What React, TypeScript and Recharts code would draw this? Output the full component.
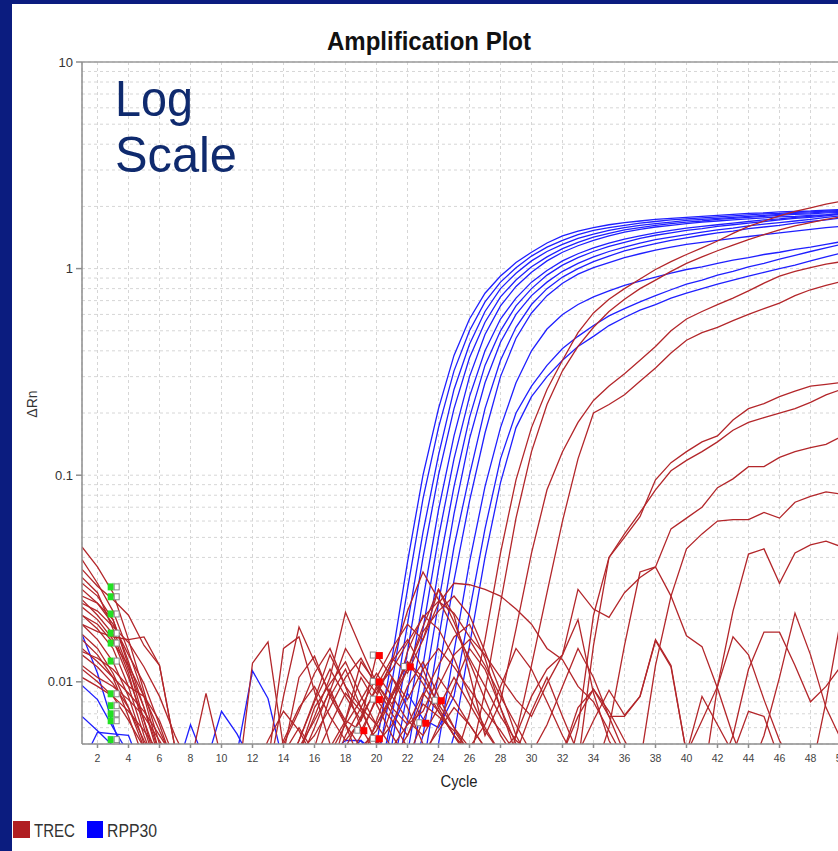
import React from "react";
import {
  CartesianGrid,
  ComposedChart,
  Line,
  ReferenceLine,
  Scatter,
  XAxis,
  YAxis,
} from "recharts";

// cycle numbers on the x axis
const cycles = [
  1, 2, 3, 4, 5, 6, 7, 8, 9, 10,
  11, 12, 13, 14, 15, 16, 17, 18, 19, 20,
  21, 22, 23, 24, 25, 26, 27, 28, 29, 30,
  31, 32, 33, 34, 35, 36, 37, 38, 39, 40,
  41, 42, 43, 44, 45, 46, 47, 48, 49, 50,
];

// RPP30 wells (blue), delta Rn per cycle
const rpp30Curves: number[][] = [
  [
    0.017, 0.011, 0.0062, 0.0038, 0.003, 0.003, 0.003, 0.003, 0.003, 0.003,
    0.003, 0.003, 0.003, 0.003, 0.003, 0.003, 0.003, 0.003, 0.0028, 0.005,
    0.013, 0.038, 0.1, 0.21, 0.38, 0.57, 0.76, 0.92, 1.07, 1.2,
    1.33, 1.44, 1.52, 1.58, 1.63, 1.67, 1.7, 1.73, 1.75, 1.77,
    1.79, 1.81, 1.83, 1.85, 1.86, 1.88, 1.89, 1.9, 1.92, 1.93,
  ],
  [
    0.0096, 0.0082, 0.006, 0.0045, 0.0035, 0.003, 0.003, 0.003, 0.003, 0.003,
    0.003, 0.003, 0.003, 0.003, 0.003, 0.003, 0.003, 0.0045, 0.0052, 0.0038,
    0.01, 0.028, 0.077, 0.17, 0.32, 0.5, 0.69, 0.86, 1.01, 1.15,
    1.27, 1.37, 1.46, 1.53, 1.58, 1.62, 1.66, 1.69, 1.72, 1.74,
    1.76, 1.78, 1.8, 1.82, 1.84, 1.85, 1.87, 1.88, 1.9, 1.91,
  ],
  [
    0.0068, 0.0058, 0.0049, 0.004, 0.003, 0.003, 0.003, 0.003, 0.003, 0.003,
    0.003, 0.003, 0.003, 0.003, 0.003, 0.003, 0.003, 0.003, 0.003, 0.003,
    0.0068, 0.019, 0.053, 0.125, 0.26, 0.43, 0.62, 0.8, 0.95, 1.09,
    1.21, 1.31, 1.4, 1.47, 1.53, 1.58, 1.62, 1.65, 1.68, 1.71,
    1.73, 1.75, 1.77, 1.79, 1.81, 1.83, 1.85, 1.86, 1.88, 1.89,
  ],
  [
    0.004, 0.0057, 0.0056, 0.0055, 0.0035, 0.003, 0.003, 0.003, 0.003, 0.003,
    0.003, 0.003, 0.003, 0.003, 0.003, 0.003, 0.003, 0.003, 0.003, 0.003,
    0.005, 0.014, 0.04, 0.1, 0.21, 0.37, 0.55, 0.73, 0.88, 1.02,
    1.14, 1.25, 1.34, 1.42, 1.48, 1.54, 1.58, 1.62, 1.65, 1.68,
    1.7, 1.73, 1.75, 1.77, 1.79, 1.81, 1.83, 1.84, 1.86, 1.87,
  ],
  [
    0.003, 0.003, 0.003, 0.003, 0.003, 0.003, 0.003, 0.003, 0.003, 0.003,
    0.003, 0.003, 0.003, 0.003, 0.003, 0.003, 0.003, 0.003, 0.0045, 0.0035,
    0.0035, 0.009, 0.025, 0.068, 0.155, 0.3, 0.48, 0.66, 0.82, 0.96,
    1.09, 1.2, 1.29, 1.37, 1.44, 1.5, 1.55, 1.59, 1.62, 1.65,
    1.68, 1.7, 1.72, 1.74, 1.76, 1.78, 1.79, 1.81, 1.82, 1.84,
  ],
  [
    0.003, 0.003, 0.003, 0.003, 0.003, 0.003, 0.0035, 0.0062, 0.004, 0.003,
    0.003, 0.003, 0.003, 0.003, 0.003, 0.003, 0.003, 0.003, 0.003, 0.003,
    0.003, 0.0065, 0.018, 0.05, 0.12, 0.24, 0.4, 0.57, 0.72, 0.86,
    0.98, 1.09, 1.18, 1.26, 1.33, 1.39, 1.44, 1.49, 1.53, 1.57,
    1.6, 1.63, 1.66, 1.69, 1.72, 1.74, 1.77, 1.79, 1.82, 1.85,
  ],
  [
    0.003, 0.003, 0.003, 0.003, 0.003, 0.003, 0.003, 0.003, 0.004, 0.0072,
    0.0056, 0.004, 0.003, 0.003, 0.003, 0.003, 0.003, 0.003, 0.003, 0.003,
    0.003, 0.0045, 0.012, 0.035, 0.088, 0.19, 0.34, 0.5, 0.66, 0.8,
    0.93, 1.04, 1.13, 1.21, 1.28, 1.34, 1.4, 1.45, 1.49, 1.53,
    1.56, 1.6, 1.63, 1.66, 1.69, 1.72, 1.75, 1.77, 1.8, 1.83,
  ],
  [
    0.003, 0.003, 0.003, 0.003, 0.003, 0.003, 0.003, 0.003, 0.003, 0.003,
    0.0045, 0.0113, 0.0083, 0.004, 0.003, 0.003, 0.003, 0.003, 0.003, 0.003,
    0.003, 0.0032, 0.0085, 0.024, 0.065, 0.15, 0.28, 0.44, 0.6, 0.74,
    0.86, 0.97, 1.06, 1.14, 1.21, 1.27, 1.33, 1.38, 1.42, 1.46,
    1.5, 1.54, 1.57, 1.61, 1.64, 1.67, 1.7, 1.73, 1.77, 1.8,
  ],
  [
    0.003, 0.003, 0.003, 0.003, 0.003, 0.003, 0.003, 0.003, 0.003, 0.003,
    0.003, 0.003, 0.003, 0.003, 0.003, 0.003, 0.0045, 0.0052, 0.0052, 0.0045,
    0.0035, 0.003, 0.0055, 0.016, 0.045, 0.1, 0.21, 0.36, 0.52, 0.67,
    0.8, 0.91, 1.0, 1.08, 1.15, 1.22, 1.27, 1.32, 1.37, 1.41,
    1.45, 1.49, 1.52, 1.56, 1.59, 1.62, 1.66, 1.69, 1.72, 1.76,
  ],
  [
    0.003, 0.003, 0.003, 0.003, 0.003, 0.003, 0.003, 0.003, 0.003, 0.003,
    0.003, 0.003, 0.003, 0.003, 0.003, 0.003, 0.003, 0.003, 0.003, 0.003,
    0.003, 0.003, 0.0038, 0.011, 0.031, 0.075, 0.16, 0.3, 0.46, 0.61,
    0.74, 0.85, 0.94, 1.01, 1.07, 1.13, 1.18, 1.23, 1.27, 1.31,
    1.34, 1.37, 1.4, 1.43, 1.46, 1.49, 1.52, 1.55, 1.58, 1.6,
  ],
  [
    0.003, 0.003, 0.003, 0.003, 0.003, 0.003, 0.003, 0.003, 0.003, 0.003,
    0.003, 0.003, 0.003, 0.003, 0.003, 0.003, 0.003, 0.003, 0.003, 0.003,
    0.003, 0.003, 0.003, 0.005, 0.014, 0.038, 0.088, 0.17, 0.28, 0.4,
    0.51, 0.6, 0.67, 0.73, 0.78, 0.83, 0.87, 0.91, 0.95, 0.99,
    1.02, 1.06, 1.1, 1.13, 1.17, 1.2, 1.24, 1.27, 1.31, 1.35,
  ],
  [
    0.003, 0.003, 0.003, 0.003, 0.003, 0.003, 0.003, 0.003, 0.003, 0.003,
    0.003, 0.003, 0.003, 0.003, 0.003, 0.003, 0.003, 0.003, 0.003, 0.003,
    0.006, 0.0088, 0.0066, 0.006, 0.0085, 0.022, 0.055, 0.12, 0.2, 0.27,
    0.34, 0.41, 0.47, 0.53, 0.59, 0.64, 0.69, 0.74, 0.79, 0.84,
    0.88, 0.93, 0.97, 1.02, 1.06, 1.11, 1.16, 1.21, 1.26, 1.31,
  ],
  [
    0.003, 0.003, 0.003, 0.003, 0.003, 0.003, 0.003, 0.003, 0.003, 0.003,
    0.003, 0.003, 0.003, 0.003, 0.003, 0.003, 0.003, 0.003, 0.003, 0.003,
    0.003, 0.003, 0.003, 0.003, 0.0055, 0.015, 0.04, 0.092, 0.17, 0.24,
    0.3, 0.36, 0.42, 0.47, 0.53, 0.58, 0.63, 0.67, 0.72, 0.76,
    0.8, 0.84, 0.88, 0.92, 0.96, 1.0, 1.04, 1.09, 1.14, 1.19,
  ],
];

// TREC wells (red), delta Rn per cycle
const trecCurves: number[][] = [
  [
    0.03, 0.026, 0.02, 0.012, 0.0065, 0.0035, 0.003, 0.003, 0.003, 0.003,
    0.003, 0.003, 0.003, 0.003, 0.004, 0.006, 0.0092, 0.0062, 0.004, 0.0035,
    0.004, 0.0045, 0.004, 0.0035, 0.004, 0.007, 0.016, 0.042, 0.095, 0.17,
    0.26, 0.36, 0.49, 0.61, 0.71, 0.8, 0.89, 0.99, 1.08, 1.17,
    1.26, 1.36, 1.48, 1.6, 1.7, 1.8, 1.89, 1.97, 2.05, 2.12,
  ],
  [
    0.045, 0.036, 0.027, 0.016, 0.009, 0.005, 0.0035, 0.003, 0.003, 0.003,
    0.003, 0.003, 0.004, 0.0145, 0.0165, 0.009, 0.005, 0.0035, 0.004, 0.0065,
    0.0105, 0.0075, 0.005, 0.0045, 0.0035, 0.004, 0.009, 0.024, 0.062, 0.13,
    0.22, 0.32, 0.42, 0.52, 0.62, 0.71, 0.8, 0.88, 0.97, 1.06,
    1.14, 1.22, 1.3, 1.38, 1.46, 1.54, 1.61, 1.67, 1.73, 1.78,
  ],
  [
    0.039, 0.03, 0.022, 0.014, 0.0085, 0.0045, 0.003, 0.003, 0.003, 0.003,
    0.003, 0.003, 0.003, 0.0035, 0.0052, 0.008, 0.0115, 0.0085, 0.0065, 0.0095,
    0.013, 0.011, 0.016, 0.028, 0.021, 0.011, 0.0055, 0.008, 0.018, 0.042,
    0.085, 0.13, 0.18, 0.23, 0.27, 0.31, 0.36, 0.42, 0.5, 0.57,
    0.62, 0.67, 0.72, 0.78, 0.85, 0.92, 0.97, 1.01, 1.05, 1.08,
  ],
  [
    0.035, 0.029, 0.025, 0.021, 0.015, 0.012, 0.0048, 0.003, 0.003, 0.003,
    0.003, 0.003, 0.003, 0.003, 0.0035, 0.0048, 0.0085, 0.0115, 0.0075, 0.005,
    0.0062, 0.0095, 0.0125, 0.0085, 0.006, 0.0045, 0.0035, 0.003, 0.0055, 0.012,
    0.027, 0.06, 0.12, 0.2, 0.22, 0.245, 0.285, 0.33, 0.39, 0.45,
    0.49, 0.52, 0.56, 0.6, 0.64, 0.68, 0.74, 0.79, 0.83, 0.865,
  ],
  [
    0.028, 0.024, 0.02, 0.0125, 0.0075, 0.0042, 0.003, 0.003, 0.003, 0.003,
    0.003, 0.003, 0.0035, 0.005, 0.0072, 0.011, 0.0145, 0.0095, 0.006, 0.0045,
    0.0075, 0.014, 0.021, 0.018, 0.013, 0.0085, 0.006, 0.0045, 0.0035, 0.003,
    0.003, 0.003, 0.006, 0.021, 0.04, 0.05, 0.063, 0.095, 0.115, 0.13,
    0.145, 0.155, 0.185, 0.21, 0.222, 0.24, 0.255, 0.27, 0.275, 0.281,
  ],
  [
    0.025, 0.021, 0.017, 0.011, 0.006, 0.0035, 0.003, 0.003, 0.003, 0.003,
    0.003, 0.003, 0.003, 0.0035, 0.0045, 0.0055, 0.0075, 0.0105, 0.013, 0.0095,
    0.007, 0.0055, 0.0085, 0.012, 0.0165, 0.019, 0.013, 0.0075, 0.0045, 0.0035,
    0.003, 0.003, 0.004, 0.015, 0.04, 0.052, 0.066, 0.085, 0.105, 0.118,
    0.13, 0.145, 0.165, 0.18, 0.19, 0.2, 0.21, 0.225, 0.245, 0.26,
  ],
  [
    0.023, 0.02, 0.016, 0.0105, 0.0065, 0.004, 0.003, 0.003, 0.003, 0.003,
    0.003, 0.003, 0.003, 0.003, 0.0045, 0.0075, 0.0098, 0.0125, 0.0085, 0.0062,
    0.0085, 0.0115, 0.0175, 0.022, 0.026, 0.021, 0.014, 0.009, 0.0055, 0.004,
    0.0035, 0.003, 0.003, 0.0035, 0.006, 0.015, 0.034, 0.036, 0.055, 0.062,
    0.07, 0.087, 0.096, 0.11, 0.11, 0.122, 0.13, 0.136, 0.141, 0.154,
  ],
  [
    0.021, 0.018, 0.0145, 0.0095, 0.0055, 0.0035, 0.003, 0.003, 0.003, 0.003,
    0.003, 0.003, 0.0035, 0.0045, 0.006, 0.0045, 0.0035, 0.0065, 0.0105, 0.0078,
    0.0055, 0.0042, 0.0065, 0.0095, 0.0135, 0.016, 0.012, 0.0085, 0.0062, 0.0045,
    0.0035, 0.003, 0.003, 0.003, 0.0035, 0.003, 0.004, 0.012, 0.026, 0.044,
    0.052, 0.06, 0.061, 0.061, 0.066, 0.062, 0.074, 0.079, 0.083, 0.081,
  ],
  [
    0.019, 0.016, 0.0125, 0.0085, 0.005, 0.0035, 0.003, 0.003, 0.003, 0.003,
    0.003, 0.0035, 0.0052, 0.0072, 0.0058, 0.0042, 0.0035, 0.004, 0.0055, 0.0085,
    0.0125, 0.016, 0.0115, 0.0075, 0.0055, 0.0045, 0.0038, 0.0033, 0.003, 0.003,
    0.003, 0.003, 0.003, 0.003, 0.003, 0.003, 0.003, 0.003, 0.0035, 0.0045,
    0.0065, 0.0095, 0.022, 0.0415, 0.044, 0.03, 0.042, 0.046, 0.048, 0.045,
  ],
  [
    0.017, 0.0145, 0.011, 0.0075, 0.0048, 0.0035, 0.003, 0.003, 0.003, 0.003,
    0.003, 0.003, 0.003, 0.003, 0.003, 0.0035, 0.0045, 0.0062, 0.0082, 0.011,
    0.0085, 0.0065, 0.0055, 0.0075, 0.0105, 0.0078, 0.0058, 0.0045, 0.0055, 0.0085,
    0.0115, 0.0135, 0.028, 0.0225, 0.0205, 0.027, 0.032, 0.036, 0.026, 0.0167,
    0.0148, 0.0093, 0.0055, 0.0035, 0.003, 0.003, 0.003, 0.003, 0.003, 0.003,
  ],
  [
    0.016, 0.0135, 0.0105, 0.0068, 0.0042, 0.003, 0.003, 0.003, 0.003, 0.003,
    0.003, 0.0123, 0.0156, 0.0048, 0.003, 0.003, 0.0035, 0.0055, 0.0075, 0.0062,
    0.0048, 0.0062, 0.0088, 0.0072, 0.0055, 0.0042, 0.0035, 0.003, 0.003, 0.003,
    0.003, 0.003, 0.003, 0.003, 0.003, 0.003, 0.003, 0.003, 0.003, 0.003,
    0.003, 0.0035, 0.0055, 0.0115, 0.0174, 0.0174, 0.012, 0.008, 0.0095, 0.012,
  ],
  [
    0.014, 0.013, 0.0115, 0.0095, 0.0085, 0.0065, 0.0042, 0.003, 0.003, 0.003,
    0.003, 0.003, 0.003, 0.0035, 0.0052, 0.0082, 0.0135, 0.0095, 0.0075, 0.0105,
    0.0145, 0.019, 0.016, 0.024, 0.03, 0.0295, 0.028, 0.026, 0.0225, 0.019,
    0.0145, 0.0128, 0.0095, 0.008, 0.0058, 0.0042, 0.0035, 0.003, 0.003, 0.003,
    0.003, 0.003, 0.003, 0.003, 0.003, 0.003, 0.003, 0.003, 0.003, 0.003,
  ],
  [
    0.012, 0.0105, 0.0095, 0.0082, 0.0068, 0.0052, 0.0038, 0.003, 0.003, 0.003,
    0.003, 0.003, 0.003, 0.0035, 0.0048, 0.0065, 0.009, 0.0145, 0.011, 0.0088,
    0.0125, 0.022, 0.034, 0.025, 0.018, 0.013, 0.0095, 0.0068, 0.0052, 0.0045,
    0.0062, 0.0095, 0.0145, 0.0105, 0.0068, 0.0045, 0.0035, 0.003, 0.003, 0.003,
    0.003, 0.003, 0.003, 0.003, 0.003, 0.003, 0.003, 0.003, 0.003, 0.003,
  ],
  [
    0.026, 0.024, 0.019, 0.0135, 0.0098, 0.0062, 0.0038, 0.003, 0.003, 0.003,
    0.003, 0.003, 0.003, 0.0035, 0.0045, 0.0068, 0.0105, 0.0217, 0.0145, 0.0098,
    0.0078, 0.0115, 0.0185, 0.028, 0.0195, 0.0125, 0.0082, 0.0055, 0.0042, 0.0035,
    0.003, 0.003, 0.003, 0.003, 0.003, 0.003, 0.003, 0.003, 0.003, 0.003,
    0.003, 0.003, 0.0045, 0.0072, 0.0068, 0.0042, 0.003, 0.003, 0.003, 0.003,
  ],
  [
    0.032, 0.027, 0.018, 0.0115, 0.0075, 0.0045, 0.0035, 0.004, 0.0088, 0.0042,
    0.003, 0.003, 0.0035, 0.0085, 0.0184, 0.0125, 0.0088, 0.0065, 0.0058, 0.0082,
    0.0065, 0.0048, 0.0042, 0.0062, 0.0095, 0.0145, 0.0115, 0.0075, 0.005, 0.0038,
    0.0032, 0.0045, 0.0068, 0.0092, 0.0072, 0.0052, 0.0038, 0.003, 0.003, 0.003,
    0.003, 0.003, 0.003, 0.003, 0.003, 0.003, 0.003, 0.003, 0.003, 0.003,
  ],
  [
    0.019, 0.0175, 0.0165, 0.016, 0.0165, 0.012, 0.0048, 0.003, 0.003, 0.003,
    0.003, 0.003, 0.003, 0.0045, 0.0105, 0.0133, 0.0085, 0.0062, 0.0048, 0.0058,
    0.0085, 0.0125, 0.0105, 0.0078, 0.006, 0.0048, 0.0062, 0.0095, 0.0145, 0.0115,
    0.008, 0.0055, 0.004, 0.0035, 0.003, 0.003, 0.003, 0.003, 0.003, 0.003,
    0.003, 0.003, 0.003, 0.003, 0.003, 0.003, 0.003, 0.003, 0.003, 0.003,
  ],
  [
    0.0145, 0.0125, 0.0105, 0.0088, 0.0072, 0.0055, 0.0042, 0.0035, 0.003, 0.003,
    0.003, 0.003, 0.003, 0.003, 0.003, 0.0035, 0.0048, 0.0065, 0.0125, 0.0098,
    0.0075, 0.0062, 0.0072, 0.0105, 0.0082, 0.0062, 0.0048, 0.0038, 0.0032, 0.003,
    0.003, 0.0035, 0.0045, 0.0065, 0.0091, 0.0069, 0.0085, 0.016, 0.012, 0.0045,
    0.003, 0.003, 0.003, 0.003, 0.003, 0.003, 0.003, 0.003, 0.003, 0.003,
  ],
  [
    0.0135, 0.0118, 0.0098, 0.0075, 0.0052, 0.0038, 0.003, 0.003, 0.0035, 0.003,
    0.003, 0.003, 0.003, 0.003, 0.003, 0.0042, 0.0062, 0.0088, 0.0072, 0.0052,
    0.0042, 0.0055, 0.0078, 0.0068, 0.0058, 0.0045, 0.0035, 0.003, 0.003, 0.003,
    0.003, 0.003, 0.003, 0.003, 0.003, 0.003, 0.003, 0.003, 0.003, 0.003,
    0.003, 0.003, 0.003, 0.003, 0.003, 0.003, 0.003, 0.0035, 0.008, 0.021,
  ],
  [
    0.024, 0.022, 0.0185, 0.0155, 0.0118, 0.0085, 0.0055, 0.0038, 0.003, 0.003,
    0.003, 0.003, 0.003, 0.003, 0.003, 0.003, 0.0035, 0.0048, 0.0068, 0.0092,
    0.0115, 0.0155, 0.0205, 0.0245, 0.0215, 0.0165, 0.0135, 0.0105, 0.0082, 0.0068,
    0.0098, 0.0135, 0.02, 0.0088, 0.0052, 0.0038, 0.003, 0.003, 0.003, 0.003,
    0.003, 0.003, 0.003, 0.003, 0.003, 0.003, 0.003, 0.003, 0.003, 0.003,
  ],
  [
    0.021, 0.019, 0.0155, 0.012, 0.0085, 0.0058, 0.004, 0.003, 0.003, 0.003,
    0.003, 0.003, 0.0035, 0.0052, 0.0075, 0.0095, 0.0068, 0.0052, 0.0065, 0.0135,
    0.0105, 0.0082, 0.0115, 0.0145, 0.0118, 0.0092, 0.0072, 0.0058, 0.0045, 0.0038,
    0.0032, 0.003, 0.003, 0.003, 0.003, 0.003, 0.003, 0.003, 0.003, 0.003,
    0.003, 0.003, 0.003, 0.003, 0.003, 0.003, 0.003, 0.003, 0.003, 0.003,
  ],
  [
    0.0105, 0.0095, 0.0085, 0.0072, 0.0058, 0.0045, 0.0035, 0.003, 0.003, 0.003,
    0.003, 0.003, 0.003, 0.003, 0.003, 0.003, 0.003, 0.0035, 0.0045, 0.0062,
    0.0088, 0.0125, 0.0098, 0.0072, 0.0055, 0.0042, 0.0035, 0.003, 0.003, 0.003,
    0.003, 0.0045, 0.0075, 0.0092, 0.0068, 0.0068, 0.0085, 0.0158, 0.0118, 0.0045,
    0.003, 0.0095, 0.0165, 0.0135, 0.0082, 0.0052, 0.0038, 0.003, 0.003, 0.003,
  ],
  [
    0.0115, 0.01, 0.0085, 0.0065, 0.0048, 0.0035, 0.003, 0.003, 0.003, 0.003,
    0.003, 0.003, 0.003, 0.003, 0.003, 0.003, 0.003, 0.003, 0.003, 0.003,
    0.003, 0.0035, 0.0045, 0.0058, 0.0075, 0.0062, 0.0048, 0.0038, 0.0045, 0.0072,
    0.0105, 0.0068, 0.0045, 0.0035, 0.003, 0.003, 0.003, 0.003, 0.003, 0.0045,
    0.0085, 0.0062, 0.0045, 0.0035, 0.0055, 0.0105, 0.0215, 0.0135, 0.0075, 0.0052,
  ],
];

// baseline start markers (green) and Ct markers (red)
const baselineMarks = [
  { cycle: 2.85, value: 0.0288 },
  { cycle: 2.85, value: 0.0258 },
  { cycle: 2.85, value: 0.0213 },
  { cycle: 2.85, value: 0.0172 },
  { cycle: 2.85, value: 0.0154 },
  { cycle: 2.85, value: 0.0126 },
  { cycle: 2.85, value: 0.00875 },
  { cycle: 2.85, value: 0.00766 },
  { cycle: 2.85, value: 0.007 },
  { cycle: 2.85, value: 0.00648 },
  { cycle: 2.85, value: 0.00525 },
];

const ctMarks = [
  { cycle: 20.15, value: 0.0134 },
  { cycle: 20.15, value: 0.01 },
  { cycle: 20.15, value: 0.0082 },
  { cycle: 19.15, value: 0.0058 },
  { cycle: 20.15, value: 0.0053 },
  { cycle: 22.15, value: 0.0118 },
  { cycle: 23.15, value: 0.0063 },
  { cycle: 24.15, value: 0.0081 },
];

const xTicks = [
  2, 4, 6, 8, 10, 12, 14, 16, 18, 20, 22, 24, 26,
  28, 30, 32, 34, 36, 38, 40, 42, 44, 46, 48, 50,
];
const yTicks = [0.01, 0.1, 1, 10];
const yGridValues = [
  0.005, 0.006, 0.007, 0.008, 0.009,
  0.01, 0.02, 0.03, 0.04, 0.05, 0.06, 0.07, 0.08, 0.09,
  0.1, 0.2, 0.3, 0.4, 0.5, 0.6, 0.7, 0.8, 0.9,
  1, 2, 3, 4, 5, 6, 7, 8, 9, 10,
];

const RED = "#b3262a";
const BLUE = "#1f1fff";
const FONT = "'Liberation Sans', Arial, sans-serif";

const rows = cycles.map((cycle, i) => {
  const row: Record<string, number> = { cycle };
  rpp30Curves.forEach((c, k) => (row[`rpp${k}`] = c[i]));
  trecCurves.forEach((c, k) => (row[`trec${k}`] = c[i]));
  return row;
});

const GreenMark = (props: any) => {
  const { cx, cy } = props;
  return (
    <g>
      <rect x={cx - 3} y={cy - 3.5} width={6} height={7} fill="#22e022" />
      <rect x={cx + 3.5} y={cy - 3} width={5} height={6} fill="#fff" stroke="#888" strokeWidth={1} />
    </g>
  );
};

const RedMark = (props: any) => {
  const { cx, cy } = props;
  return (
    <g>
      <rect x={cx - 8.5} y={cy - 3.5} width={5} height={6} fill="#fff" stroke="#888" strokeWidth={1} />
      <rect x={cx - 3} y={cy - 3.5} width={7} height={7} fill="#ff0000" />
    </g>
  );
};

export default function App() {
  return (
    <div
      style={{
        position: "absolute",
        left: 0,
        top: 0,
        width: 838,
        height: 851,
        overflow: "hidden",
        background: "#0b1c7f",
        fontFamily: FONT,
      }}
    >
      <div
        style={{
          position: "absolute",
          left: 12,
          top: 4,
          width: 830,
          height: 850,
          background: "#fff",
        }}
      />
      <div style={{ position: "absolute", left: 0, top: 0 }}>
        <ComposedChart
          width={860}
          height={800}
          data={rows}
          margin={{ top: 62, right: 18.5, bottom: 26, left: 22 }}
        >
          <CartesianGrid
            stroke="#d6d6d6"
            strokeDasharray="3 3"
            horizontalValues={yGridValues}
          />
          <XAxis
            dataKey="cycle"
            type="number"
            domain={[1, 50]}
            ticks={xTicks}
            interval={0}
            allowDataOverflow
            height={30}
            tickSize={4}
            tickMargin={7}
            stroke="#8e8e8e"
            strokeWidth={1.5}
            tick={{ fontSize: 10.5, fill: "#444", fontFamily: FONT }}
          />
          <YAxis
            scale="log"
            domain={[0.005, 10]}
            ticks={yTicks}
            interval={0}
            allowDataOverflow
            width={60}
            tickSize={6}
            tickMargin={3}
            stroke="#8e8e8e"
            strokeWidth={1.5}
            tick={{ fontSize: 13, fill: "#333", fontFamily: FONT }}
            tickFormatter={(v: number) => String(v)}
          />
          <ReferenceLine y={10} stroke="#9a9a9a" strokeWidth={1.5} />
          {rpp30Curves.map((_, k) => (
            <Line
              key={`rpp${k}`}
              dataKey={`rpp${k}`}
              stroke={BLUE}
              strokeWidth={1.3}
              dot={false}
              activeDot={false}
              isAnimationActive={false}
              type="linear"
            />
          ))}
          {trecCurves.map((_, k) => (
            <Line
              key={`trec${k}`}
              dataKey={`trec${k}`}
              stroke={RED}
              strokeWidth={1.3}
              dot={false}
              activeDot={false}
              isAnimationActive={false}
              type="linear"
            />
          ))}
          <Scatter
            data={baselineMarks}
            dataKey="value"
            shape={GreenMark}
            isAnimationActive={false}
          />
          <Scatter
            data={ctMarks}
            dataKey="value"
            shape={RedMark}
            isAnimationActive={false}
          />
        </ComposedChart>
      </div>
      <svg
        width={838}
        height={851}
        style={{ position: "absolute", left: 0, top: 0, pointerEvents: "none" }}
      >
        <text
          x={327}
          y={50}
          fontSize={25}
          fontWeight="bold"
          fill="#111"
          textLength={204}
          lengthAdjust="spacingAndGlyphs"
          fontFamily={FONT}
        >
          Amplification Plot
        </text>
        <text x={115} y={116} fontSize={50} fill="#0f2a6e" textLength={78} lengthAdjust="spacingAndGlyphs" fontFamily={FONT}>
          Log
        </text>
        <text x={115} y={172} fontSize={50} fill="#0f2a6e" textLength={122} lengthAdjust="spacingAndGlyphs" fontFamily={FONT}>
          Scale
        </text>
        <text
          x={0}
          y={0}
          fontSize={14}
          fill="#333"
          textAnchor="middle"
          fontFamily={FONT}
          transform="translate(37 404) rotate(-90)"
        >
          ΔRn
        </text>
        <text x={459} y={787} fontSize={16} fill="#222" textAnchor="middle" textLength={37} lengthAdjust="spacingAndGlyphs" fontFamily={FONT}>
          Cycle
        </text>
        <rect x={13} y={821} width={17} height={17} fill="#b01e22" />
        <text x={34} y={837} fontSize={18} fill="#333" textLength={41} lengthAdjust="spacingAndGlyphs" fontFamily={FONT}>
          TREC
        </text>
        <rect x={87} y={821} width={16} height={17} fill="#0000ff" />
        <text x={107} y={837} fontSize={18} fill="#333" textLength={50} lengthAdjust="spacingAndGlyphs" fontFamily={FONT}>
          RPP30
        </text>
      </svg>
    </div>
  );
}
